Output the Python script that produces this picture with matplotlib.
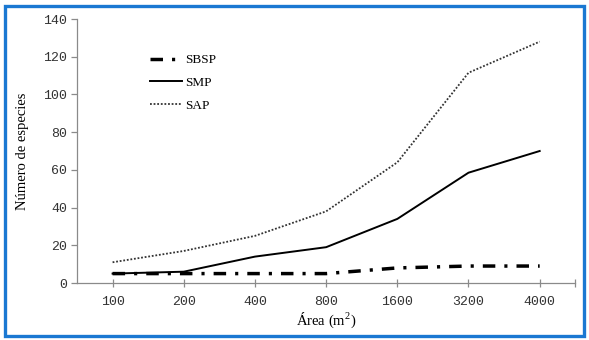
import matplotlib
matplotlib.use("Agg")
import matplotlib.pyplot as plt
from matplotlib.patches import Rectangle

# data
areas = ["100", "200", "400", "800", "1600", "3200", "4000"]
sbsp = [5, 5, 5, 5, 8, 9, 9]
smp = [5, 6, 14, 19, 34, 58.5, 70]
sap = [11, 17, 25, 38, 64, 111.5, 128]
yticks = [0, 20, 40, 60, 80, 100, 120, 140]

serif = "Liberation Serif"
mono = "Liberation Mono"
gray = "#8a8a8a"
plt.rcParams["mathtext.fontset"] = "custom"
plt.rcParams["mathtext.rm"] = serif

fig = plt.figure(figsize=(5.89, 3.40), dpi=100)
ax = fig.add_axes([0.1307, 0.1676, 0.846, 0.7765])

x = list(range(len(areas)))
l1, = ax.plot(x, sbsp, color="black", lw=2.5, label="SBSP")
l1.set_dashes((3.6, 2.6, 0.9, 2.6))
ax.plot(x, smp, color="black", lw=1.4, label="SMP")
ax.plot(x, sap, color="#333333", lw=1.3, linestyle=(0, (1, 1)), label="SAP")

ax.set_xlim(-0.5, len(areas) - 0.5)
ax.set_ylim(0, 140)
ax.set_yticks(yticks)
ax.set_xticks(x)
ax.set_xticklabels(areas)
ax.set_xticks([len(areas) - 0.5], minor=True)

for s in ("top", "right"):
    ax.spines[s].set_visible(False)
for s in ("left", "bottom"):
    ax.spines[s].set_color(gray)
    ax.spines[s].set_linewidth(0.9)

ax.tick_params(axis="y", direction="out", length=4, color=gray, width=0.9, pad=3)
ax.tick_params(axis="x", which="both", direction="inout", length=6, color=gray,
               width=0.9, pad=6)
for lab in ax.get_xticklabels() + ax.get_yticklabels():
    lab.set_fontfamily(mono)
    lab.set_fontsize(9.5)
    lab.set_color("#333333")

ax.set_ylabel("Número de especies", fontfamily=serif, fontsize=10.5, labelpad=10)
ax.set_xlabel(r"Área (m$^\mathrm{2}$)", fontfamily=serif, fontsize=10.5, labelpad=2)

ax.legend(loc="upper left", bbox_to_anchor=(150 / 589, 1 - 54 / 340),
          bbox_transform=fig.transFigure, frameon=False, borderpad=0,
          borderaxespad=0, handlelength=2.4, handletextpad=0.25,
          labelspacing=0.8, prop={"family": serif, "size": 9.5})

fig.patches.append(Rectangle((5 / 589, 4 / 340), 579 / 589, 330 / 340,
                             transform=fig.transFigure, fill=False,
                             edgecolor="#1a78d2", lw=2.4))

fig.savefig("out.png", dpi=100)
